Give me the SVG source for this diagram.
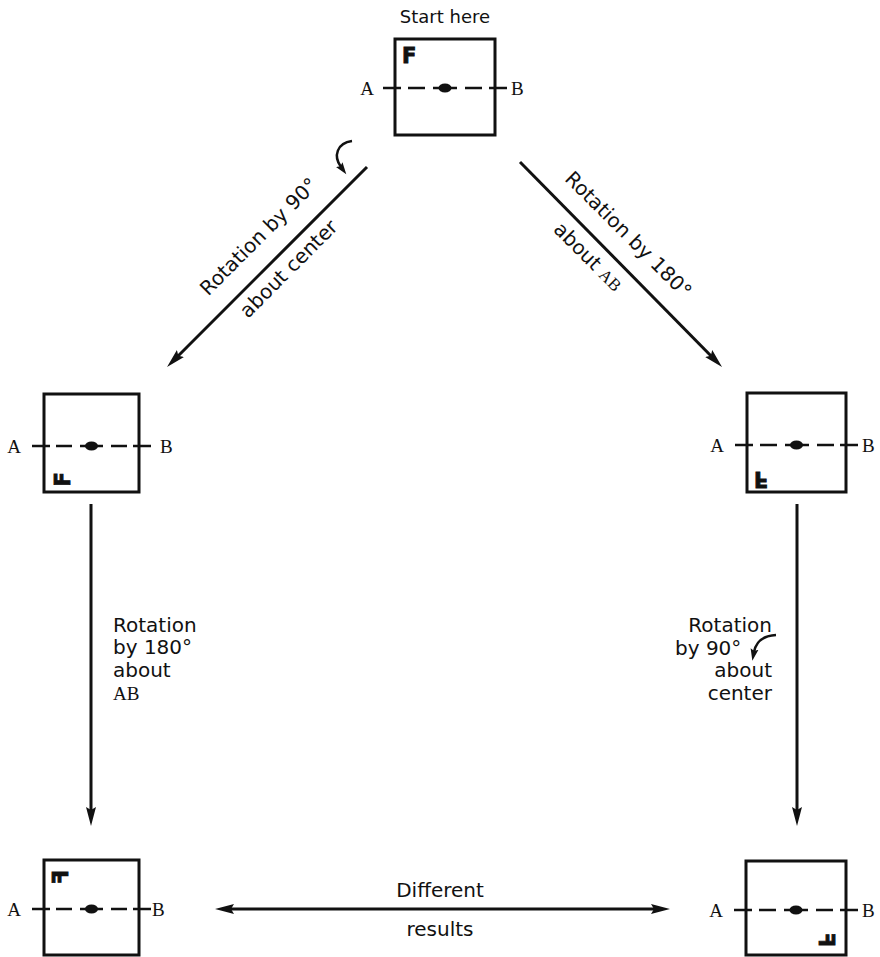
<svg xmlns="http://www.w3.org/2000/svg" width="880" height="957" viewBox="0 0 880 957">
<style>
.box{fill:none;stroke:#111;stroke-width:3}
.ax{fill:none;stroke:#111;stroke-width:2.4}
.dot{fill:#111}
.fg{font-family:"DejaVu Sans",sans-serif;font-weight:bold;font-size:21px;fill:#111;stroke:#111;stroke-width:0.9}
.ser{font-family:"Liberation Serif","Times New Roman",serif;font-size:19px;fill:#111}
.lbl{font-family:"DejaVu Sans",sans-serif;font-size:20px;fill:#111}
.conn{fill:none;stroke:#111;stroke-width:3}
.curl{fill:none;stroke:#111;stroke-width:2.5}
</style>
<defs>
<marker id="ah" viewBox="0 -6 20 12" refX="8" refY="0" markerWidth="20" markerHeight="12" markerUnits="userSpaceOnUse" orient="auto-start-reverse">
<path d="M0,-5 L19,0 L0,5 L3,0 Z" fill="#111"/>
</marker>
<marker id="ahs" viewBox="0 -5 13 10" refX="3" refY="0" markerWidth="13" markerHeight="10" markerUnits="userSpaceOnUse" orient="auto">
<path d="M0,-4 L12,0 L0,4 L2,0 Z" fill="#111"/>
</marker>
</defs>

<text class="lbl" x="445" y="23" text-anchor="middle" style="font-size:18px">Start here</text>

<g id="box-start">
<rect class="box" x="395" y="39" width="100" height="96"/>
<path class="ax" d="M383 88H401M408 88H425M433 88H457M465 88H482M489 88H507"/>
<ellipse class="dot" cx="445" cy="88" rx="6.5" ry="4.5"/>
<text class="fg" x="402" y="63">F</text>
<text class="ser" x="374" y="95" text-anchor="end">A</text>
<text class="ser" x="511" y="95">B</text>
</g>

<g id="box-mid-left">
<rect class="box" x="44" y="394" width="95" height="98"/>
<path class="ax" d="M32 446H50M56 446H72M80 446H103M111 446H127M133 446H151"/>
<ellipse class="dot" cx="91.5" cy="446" rx="6.5" ry="4.5"/>
<text class="fg" x="48" y="421" transform="rotate(-90 91.5 443)">F</text>
<text class="ser" x="21" y="453" text-anchor="end">A</text>
<text class="ser" x="160" y="453">B</text>
</g>

<g id="box-mid-right">
<rect class="box" x="747" y="393" width="99" height="99"/>
<path class="ax" d="M735 445H753M760 445H777M785 445H809M817 445H834M840 445H858"/>
<ellipse class="dot" cx="796.5" cy="445" rx="6.5" ry="4.5"/>
<text class="fg" x="754" y="417" transform="matrix(1 0 0 -1 0 889)">F</text>
<text class="ser" x="724" y="452" text-anchor="end">A</text>
<text class="ser" x="862" y="452">B</text>
</g>

<g id="box-bottom-left">
<rect class="box" x="44" y="860" width="95" height="95"/>
<path class="ax" d="M32 909H50M56 909H72M80 909H103M111 909H127M133 909H151"/>
<ellipse class="dot" cx="91.5" cy="909" rx="6.5" ry="4.5"/>
<text class="fg" x="54" y="884" transform="matrix(0 1 1 0 -816 816)">F</text>
<text class="ser" x="21" y="916" text-anchor="end">A</text>
<text class="ser" x="152" y="916">B</text>
</g>

<g id="box-bottom-right">
<rect class="box" x="746" y="861" width="100" height="94"/>
<path class="ax" d="M734 910H752M759 910H776M784 910H808M816 910H833M840 910H858"/>
<ellipse class="dot" cx="796" cy="910" rx="6.5" ry="4.5"/>
<text class="fg" x="757" y="885" transform="matrix(0 -1 -1 0 1704 1704)">F</text>
<text class="ser" x="723" y="917" text-anchor="end">A</text>
<text class="ser" x="862" y="917">B</text>
</g>

<g id="connectors">
<line class="conn" x1="367" y1="167" x2="174.8" y2="359.2" marker-end="url(#ah)"/>
<line class="conn" x1="520" y1="162" x2="714.3" y2="359.2" marker-end="url(#ah)"/>
<line class="conn" x1="91" y1="504" x2="91" y2="815" marker-end="url(#ah)"/>
<line class="conn" x1="797" y1="504" x2="797" y2="815" marker-end="url(#ah)"/>
<line class="conn" x1="226" y1="909" x2="659" y2="909" marker-start="url(#ah)" marker-end="url(#ah)"/>
<path class="curl" d="M352 141C337 143 333 156 341 167" marker-end="url(#ahs)"/>
<path class="curl" d="M776 635Q757 636 754 652" marker-end="url(#ahs)"/>
</g>

<g id="labels">
<text class="lbl" transform="translate(263.5,241.5) rotate(-45)" text-anchor="middle">Rotation by 90°</text>
<text class="lbl" transform="translate(293.5,273.5) rotate(-45)" text-anchor="middle">about center</text>
<text class="lbl" transform="translate(623.5,239.5) rotate(45)" text-anchor="middle">Rotation by 180°</text>
<text class="lbl" transform="translate(583.5,261.5) rotate(45)" text-anchor="middle">about <tspan style="font-family:'Liberation Serif',serif;font-size:17px">AB</tspan></text>
<text class="lbl" x="113" y="632">Rotation</text>
<text class="lbl" x="113" y="654">by 180°</text>
<text class="lbl" x="113" y="677">about</text>
<text class="ser" x="113" y="700">AB</text>
<text class="lbl" x="772" y="632" text-anchor="end">Rotation</text>
<text class="lbl" x="675" y="655">by 90°</text>
<text class="lbl" x="772" y="677" text-anchor="end">about</text>
<text class="lbl" x="772" y="700" text-anchor="end">center</text>
<text class="lbl" x="440" y="897" text-anchor="middle">Different</text>
<text class="lbl" x="440" y="936" text-anchor="middle">results</text>
</g>
</svg>
